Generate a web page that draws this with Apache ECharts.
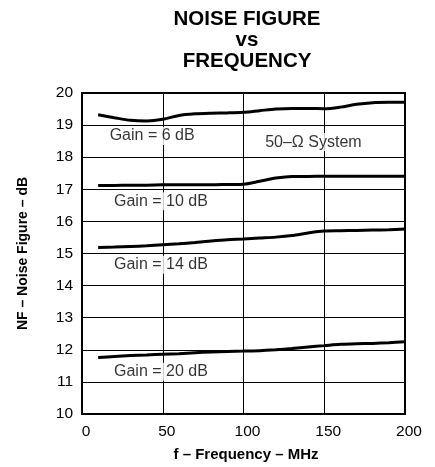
<!DOCTYPE html>
<html>
<head>
<meta charset="utf-8">
<script src="https://cdn.jsdelivr.net/npm/echarts@6/dist/echarts.min.js"></script>
<style>
html,body{margin:0;padding:0;background:#fff;}
#chart{width:435px;height:467px;}
</style>
</head>
<body>
<div id="chart"></div>
<script>
// Frequency (MHz)
var freq = [10, 20, 30, 40, 50, 60, 70, 80, 90, 100, 110, 120, 130, 140, 150, 160, 170, 180, 190, 200];
// Noise figure (dB) for each gain setting
var nfGain6  = [19.32, 19.23, 19.15, 19.13, 19.18, 19.30, 19.35, 19.37, 19.38, 19.40, 19.45, 19.50, 19.52, 19.52, 19.51, 19.56, 19.65, 19.70, 19.71, 19.71];
var nfGain10 = [17.12, 17.12, 17.13, 17.13, 17.14, 17.14, 17.14, 17.14, 17.15, 17.16, 17.25, 17.35, 17.40, 17.40, 17.41, 17.41, 17.41, 17.41, 17.41, 17.41];
var nfGain14 = [15.19, 15.20, 15.22, 15.24, 15.27, 15.30, 15.34, 15.39, 15.43, 15.45, 15.48, 15.51, 15.56, 15.64, 15.70, 15.71, 15.72, 15.73, 15.74, 15.76];
var nfGain20 = [11.76, 11.79, 11.82, 11.84, 11.86, 11.88, 11.91, 11.93, 11.95, 11.96, 11.97, 12.00, 12.04, 12.09, 12.13, 12.17, 12.19, 12.20, 12.22, 12.25];
// Annotation labels: [x, y, text]
var noteX = [16.5, 19.2, 19.2, 19.2, 112.8];
var noteY = [18.66, 16.63, 14.65, 11.32, 18.47];
var noteText = ['Gain = 6 dB', 'Gain = 10 dB', 'Gain = 14 dB', 'Gain = 20 dB', '50\u2013\u03A9 System'];

var FONT = '"Liberation Sans", Arial, Helvetica, sans-serif';
function pairs(ys){ return freq.map(function(f,i){ return [f, ys[i]]; }); }
function curve(ys){
  return { type:'line', data:pairs(ys), smooth:0.3, showSymbol:false, symbol:'none',
    lineStyle:{color:'#000', width:3}, z:3, silent:true };
}
var notes = noteX.map(function(x,i){ return {value:[x, noteY[i]], name:noteText[i]}; });

var chart = echarts.init(document.getElementById('chart'), null, {renderer:'canvas'});
chart.setOption({
  backgroundColor:'#fff',
  animation:false,
  title:{
    text:'NOISE FIGURE\nvs\nFREQUENCY',
    left:247, top:9, padding:0, textAlign:'center',
    textStyle:{fontFamily:FONT, fontWeight:'bold', fontSize:20.5, lineHeight:21, color:'#000'}
  },
  grid:{left:82, right:30, top:93, bottom:51, show:true, borderColor:'#000', borderWidth:2, backgroundColor:'transparent'},
  xAxis:{
    type:'value', min:0, max:200, interval:50,
    name:'f \u2013 Frequency \u2013 MHz', nameLocation:'middle', nameGap:33,
    nameTextStyle:{fontFamily:FONT, fontWeight:'bold', fontSize:15, color:'#000', padding:[0,0,0,5]},
    axisLine:{show:true, lineStyle:{color:'#000', width:2}},
    axisTick:{show:false},
    axisLabel:{fontFamily:FONT, fontSize:15.5, color:'#000', margin:10, padding:[0,0,0,8]},
    splitLine:{show:true, lineStyle:{color:'#000', width:1}}
  },
  yAxis:{
    type:'value', min:10, max:20, interval:1,
    name:'NF \u2013 Noise Figure \u2013 dB', nameLocation:'middle', nameGap:52,
    nameTextStyle:{fontFamily:FONT, fontWeight:'bold', fontSize:14, color:'#000'},
    axisLine:{show:true, lineStyle:{color:'#000', width:2}},
    axisTick:{show:false},
    axisLabel:{fontFamily:FONT, fontSize:15.5, color:'#000', margin:9},
    splitLine:{show:true, lineStyle:{color:'#000', width:1}}
  },
  series:[
    curve(nfGain6), curve(nfGain10), curve(nfGain14), curve(nfGain20),
    { type:'scatter', data:notes, symbolSize:0, silent:true, z:4,
      label:{show:true, position:'right', distance:0, formatter:function(p){return p.name;},
        fontFamily:FONT, fontSize:16, color:'#000', backgroundColor:'#fff', padding:[1,1,1,1]} }
  ]
});
</script>
</body>
</html>
